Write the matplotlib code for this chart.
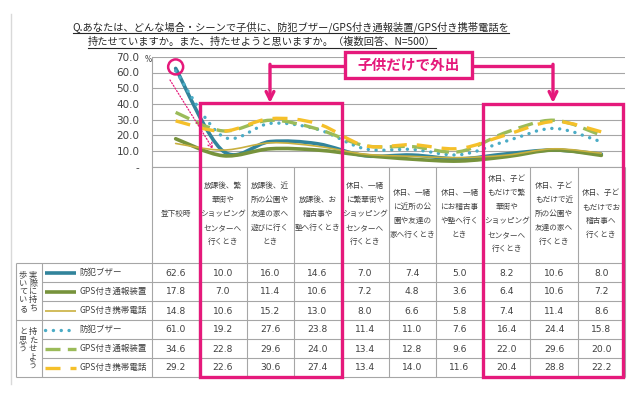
import matplotlib
matplotlib.use('Agg')
import matplotlib.pyplot as plt
from matplotlib.path import Path
from matplotlib.patches import PathPatch, Rectangle, Circle
import numpy as np

JP = ['Noto Sans CJK JP', 'DejaVu Sans']
plt.rcParams['font.family'] = JP

# ---------------- data ----------------
title_lines = ['Q.あなたは、どんな場合・シーンで子供に、防犯ブザー/GPS付き通報装置/GPS付き携帯電話を',
               '持たせていますか。また、持たせようと思いますか。（複数回答、N=500）']
categories = ['登下校時',
              '放課後、繁\n華街や\nショッピング\nセンターへ\n行くとき',
              '放課後、近\n所の公園や\n友達の家へ\n遊びに行く\nとき',
              '放課後、お\n稽古事や\n塾へ行くとき',
              '休日、一緒\nに繁華街や\nショッピング\nセンターへ\n行くとき',
              '休日、一緒\nに近所の公\n園や友達の\n家へ行くとき',
              '休日、一緒\nにお稽古事\nや塾へ行く\nとき',
              '休日、子ど\nもだけで繁\n華街や\nショッピング\nセンターへ\n行くとき',
              '休日、子ど\nもだけで近\n所の公園や\n友達の家へ\n行くとき',
              '休日、子ど\nもだけでお\n稽古事へ\n行くとき']
series_names = ['防犯ブザー', 'GPS付き通報装置', 'GPS付き携帯電話',
                '防犯ブザー', 'GPS付き通報装置', 'GPS付き携帯電話']
group_labels = [('実際に持ち', '歩いている'), ('持たせよう', 'と思う')]

carry_buzzer = [62.6, 10.0, 16.0, 14.6, 7.0, 7.4, 5.0, 8.2, 10.6, 8.0]
carry_gps_alarm = [17.8, 7.0, 11.4, 10.6, 7.2, 4.8, 3.6, 6.4, 10.6, 7.2]
carry_gps_phone = [14.8, 10.6, 15.2, 13.0, 8.0, 6.6, 5.8, 7.4, 11.4, 8.6]
want_buzzer = [61.0, 19.2, 27.6, 23.8, 11.4, 11.0, 7.6, 16.4, 24.4, 15.8]
want_gps_alarm = [34.6, 22.8, 29.6, 24.0, 13.4, 12.8, 9.6, 22.0, 29.6, 20.0]
want_gps_phone = [29.2, 22.6, 30.6, 27.4, 13.4, 14.0, 11.6, 20.4, 28.8, 22.2]

yticks = [0, 10, 20, 30, 40, 50, 60, 70]
ytick_labels = ['-', '10.0', '20.0', '30.0', '40.0', '50.0', '60.0', '70.0']
callout_text = '子供だけで外出'

series = [carry_buzzer, carry_gps_alarm, carry_gps_phone,
          want_buzzer, want_gps_alarm, want_gps_phone]

# ---------------- styles ----------------
PINK = '#E5197B'
GRID = '#A6A6A6'
TXT = '#404040'
styles = [
    dict(color='#31849B', lw=2.6, ls='-'),
    dict(color='#77933C', lw=2.6, ls='-'),
    dict(color='#C9B040', lw=1.2, ls='-'),
    dict(color='#4BACC6', lw=2.4, ls=(0, (0.05, 2.3)), capstyle='round'),
    dict(color='#9BBB59', lw=2.4, ls=(0, (4.5, 2.2)), capstyle='butt'),
    dict(color='#F5C02A', lw=2.4, ls=(0, (4.5, 3.0)), capstyle='butt'),
]

W, H = 640, 405
fig = plt.figure(figsize=(6.4, 4.05), dpi=100)
fig.patch.set_facecolor('white')

# geometry (pixels)
PL, PR, PT, PB = 152, 625, 56.8, 166.7
ncol = len(categories)
cw = (PR - PL) / ncol

ax = fig.add_axes([PL / W, (H - PB) / H, (PR - PL) / W, (PB - PT) / H])
ax.set_xlim(-0.5, ncol - 0.5)
ax.set_ylim(0, 70)
ax.set_yticks(yticks)
ax.set_yticklabels(ytick_labels, family='DejaVu Sans', fontsize=7.5, color=TXT)
ax.set_xticks([])
ax.tick_params(axis='y', length=0, pad=9)
for s in ['top', 'right', 'bottom']:
    ax.spines[s].set_visible(False)
ax.spines['left'].set_color(GRID)
ax.spines['left'].set_linewidth(0.8)
ax.yaxis.grid(True, color=GRID, lw=0.8)
ax.set_axisbelow(True)


def smooth_path(xs, ys):
    n = len(xs)
    verts = [(xs[0], ys[0])]
    codes = [Path.MOVETO]
    for i in range(n - 1):
        a = i - 1 if i > 0 else i
        d = i + 2 if i + 2 < n else i + 1
        c1 = (xs[i] + (xs[i + 1] - xs[a]) / 6, ys[i] + (ys[i + 1] - ys[a]) / 6)
        c2 = (xs[i + 1] - (xs[d] - xs[i]) / 6, ys[i + 1] - (ys[d] - ys[i]) / 6)
        verts += [c1, c2, (xs[i + 1], ys[i + 1])]
        codes += [Path.CURVE4] * 3
    return Path(verts, codes)


xs = list(range(ncol))
order = [2, 1, 0, 5, 4, 3]
for k in order:
    st = styles[k]
    pp = PathPatch(smooth_path(xs, series[k]), fill=False, edgecolor=st['color'],
                   lw=st['lw'], linestyle=st['ls'], capstyle=st.get('capstyle', 'round'),
                   joinstyle='round', zorder=3 + k)
    ax.add_patch(pp)

# ---------------- overlay (pixel coords) ----------------
ov = fig.add_axes([0, 0, 1, 1], zorder=5)
ov.set_xlim(0, W)
ov.set_ylim(H, 0)
ov.axis('off')
ov.patch.set_alpha(0)

# page border
ov.plot([11, 11], [14, 384], color='#D9D9D9', lw=1)

# % sign
ov.text(145, 59, '%', family='DejaVu Sans', fontsize=5.5, color=TXT, ha='left', va='center')

# title
tts = []
for t, xc, yc in zip(title_lines, [291, 262], [27, 42]):
    tt = ov.text(xc, yc, t, fontsize=7.35, color='#262626', ha='center', va='center')
    tts.append(tt)

# table geometry
row_top = 263
rh = 19
nrow = len(series)
rows_y = [row_top + rh * i for i in range(nrow + 1)]
col_x = [PL + cw * i for i in range(ncol + 1)]
tl = dict(color=GRID, lw=0.8, solid_capstyle='butt')

# header verticals
for x in col_x:
    ov.plot([x, x], [PB, rows_y[-1]], **tl)
ov.plot([PL, PR], [PB, PB], **tl)
# header texts
for i, c in enumerate(categories):
    ov.text(col_x[i] + cw / 2, 214, c, fontsize=5.5, color=TXT, ha='center', va='center',
            linespacing=2.0)
# rows
for j, y in enumerate(rows_y):
    x0 = 16 if j in (0, 3, 6) else 42
    ov.plot([x0, PR], [y, y], **tl)
ov.plot([16, 16], [rows_y[0], rows_y[-1]], **tl)
ov.plot([42, 42], [rows_y[0], rows_y[-1]], **tl)

# values
for k, vals in enumerate(series):
    yc = rows_y[k] + rh / 2
    for i, v in enumerate(vals):
        ov.text(col_x[i] + cw / 2, yc + 0.5, f'{v:.1f}', family='DejaVu Sans', fontsize=6.6,
                color=TXT, ha='center', va='center')
    st = styles[k]
    ov.plot([45, 76], [yc, yc], color=st['color'], lw=st['lw'], linestyle=st['ls'],
            dash_capstyle=st.get('capstyle', 'butt'), solid_capstyle='butt')
    ov.text(79, yc, series_names[k], fontsize=6.1, color=TXT, ha='left', va='center')

# group labels (vertical)
ch = 8.4
for g, (right, left) in enumerate(group_labels):
    gtop = rows_y[3 * g]
    gc = gtop + 1.5 * rh
    top = gc - len(right) * ch / 2
    for cols, xcol in ((right, 33), (left, 23)):
        for m, chh in enumerate(cols):
            ov.text(xcol, top + ch * (m + 0.5), chh, fontsize=5.9, color=TXT,
                    ha='center', va='center')

# pink annotations
pk = dict(color=PINK, lw=2.4, solid_capstyle='butt')
ov.add_patch(Rectangle((200, 103), 342 - 200, rows_y[-1] - 103, fill=False,
                       edgecolor=PINK, lw=2.4, zorder=10))
ov.add_patch(Rectangle((483, 104), 623 - 483, rows_y[-1] - 104, fill=False,
                       edgecolor=PINK, lw=2.4, zorder=10))
# circle around first point
cx = ov.transData.inverted().transform(ax.transData.transform((0, carry_buzzer[0])))
ov.add_patch(Circle((cx[0], cx[1] - 1.5), 7.5, fill=False, edgecolor=PINK, lw=1.8, zorder=10))
# dotted arrow
ov.annotate('', xy=(213, 149), xytext=(170, 80),
            arrowprops=dict(arrowstyle='->', color=PINK, lw=0.9, linestyle=(0, (1, 1.5)),
                            shrinkA=0, shrinkB=0, mutation_scale=9), zorder=10)
# callout box
ov.add_patch(Rectangle((345, 52), 472 - 345, 26, facecolor='white', edgecolor=PINK,
                       lw=2.4, zorder=11))
ov.text(408.5, 65, callout_text, fontsize=10.5, fontweight='bold', color=PINK,
        ha='center', va='center', zorder=12)
# connectors
ov.plot([345, 270], [65.5, 65.5], zorder=10, **pk)
ov.plot([472, 553], [65.5, 65.5], zorder=10, **pk)
for xa in (270, 553):
    ov.annotate('', xy=(xa, 103), xytext=(xa, 64.3),
                arrowprops=dict(arrowstyle='->', color=PINK, lw=2.4, shrinkA=0, shrinkB=0,
                                mutation_scale=14), zorder=10)

# underline title
fig.canvas.draw()
r = fig.canvas.get_renderer()
for tt in tts:
    bb = tt.get_window_extent(r)
    (x0, y0), (x1, y1) = ov.transData.inverted().transform([[bb.x0, bb.y0], [bb.x1, bb.y1]])
    ov.plot([x0, x1], [y0 + 0.5, y0 + 0.5], color='#262626', lw=0.8)

fig.savefig('out.png', dpi=100)
